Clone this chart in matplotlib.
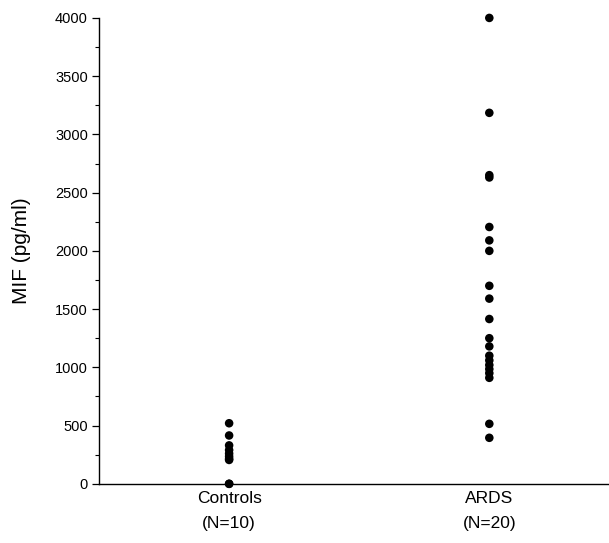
import matplotlib
matplotlib.use('Agg')
import matplotlib.pyplot as plt
from matplotlib.ticker import MultipleLocator

plt.rcParams['font.family'] = ['Liberation Sans', 'DejaVu Sans']

# 그룹 이름
groups = ['Controls', 'ARDS']
group_n = [10, 20]

# MIF 농도 (pg/ml), 그림에서 읽은 값
controls_mif = [520, 415, 330, 290, 260, 235, 215, 205, 0, 0]
ards_mif = [4000, 3185, 2650, 2630, 2205, 2090, 2000, 1700, 1590, 1415,
            1250, 1180, 1100, 1060, 1020, 985, 950, 910, 515, 395]

y_ticks = [0, 500, 1000, 1500, 2000, 2500, 3000, 3500, 4000]

fig = plt.figure(figsize=(6.09, 5.43), dpi=100)
ax = fig.add_axes([0.1626, 0.109, 0.8374, 0.858])

for i, vals in enumerate([controls_mif, ards_mif]):
    ax.scatter([i + 1] * len(vals), vals, s=38, color='black',
               edgecolors='none', zorder=3, clip_on=False)

ax.set_xlim(0.5, 2.46)
ax.set_ylim(0, 4000)
ax.set_yticks(y_ticks)
ax.set_yticklabels([str(v) for v in y_ticks], fontsize=10.5)
ax.yaxis.set_minor_locator(MultipleLocator(250))
ax.tick_params(axis='y', which='major', length=5, width=0.9, pad=3)
ax.tick_params(axis='y', which='minor', length=3, width=0.8)

ax.set_xticks([1, 2])
ax.set_xticklabels([f'{g}\n(N={n})' for g, n in zip(groups, group_n)], fontsize=12.5)
for lbl in ax.get_xticklabels():
    lbl.set_linespacing(1.85)
ax.tick_params(axis='x', length=0, pad=5)

ax.spines['top'].set_visible(False)
ax.spines['right'].set_visible(False)
ax.spines['left'].set_linewidth(1.0)
ax.spines['bottom'].set_linewidth(1.0)

ax.set_ylabel('MIF (pg/ml)', fontsize=15, labelpad=17)

fig.savefig('out.png', dpi=100)
